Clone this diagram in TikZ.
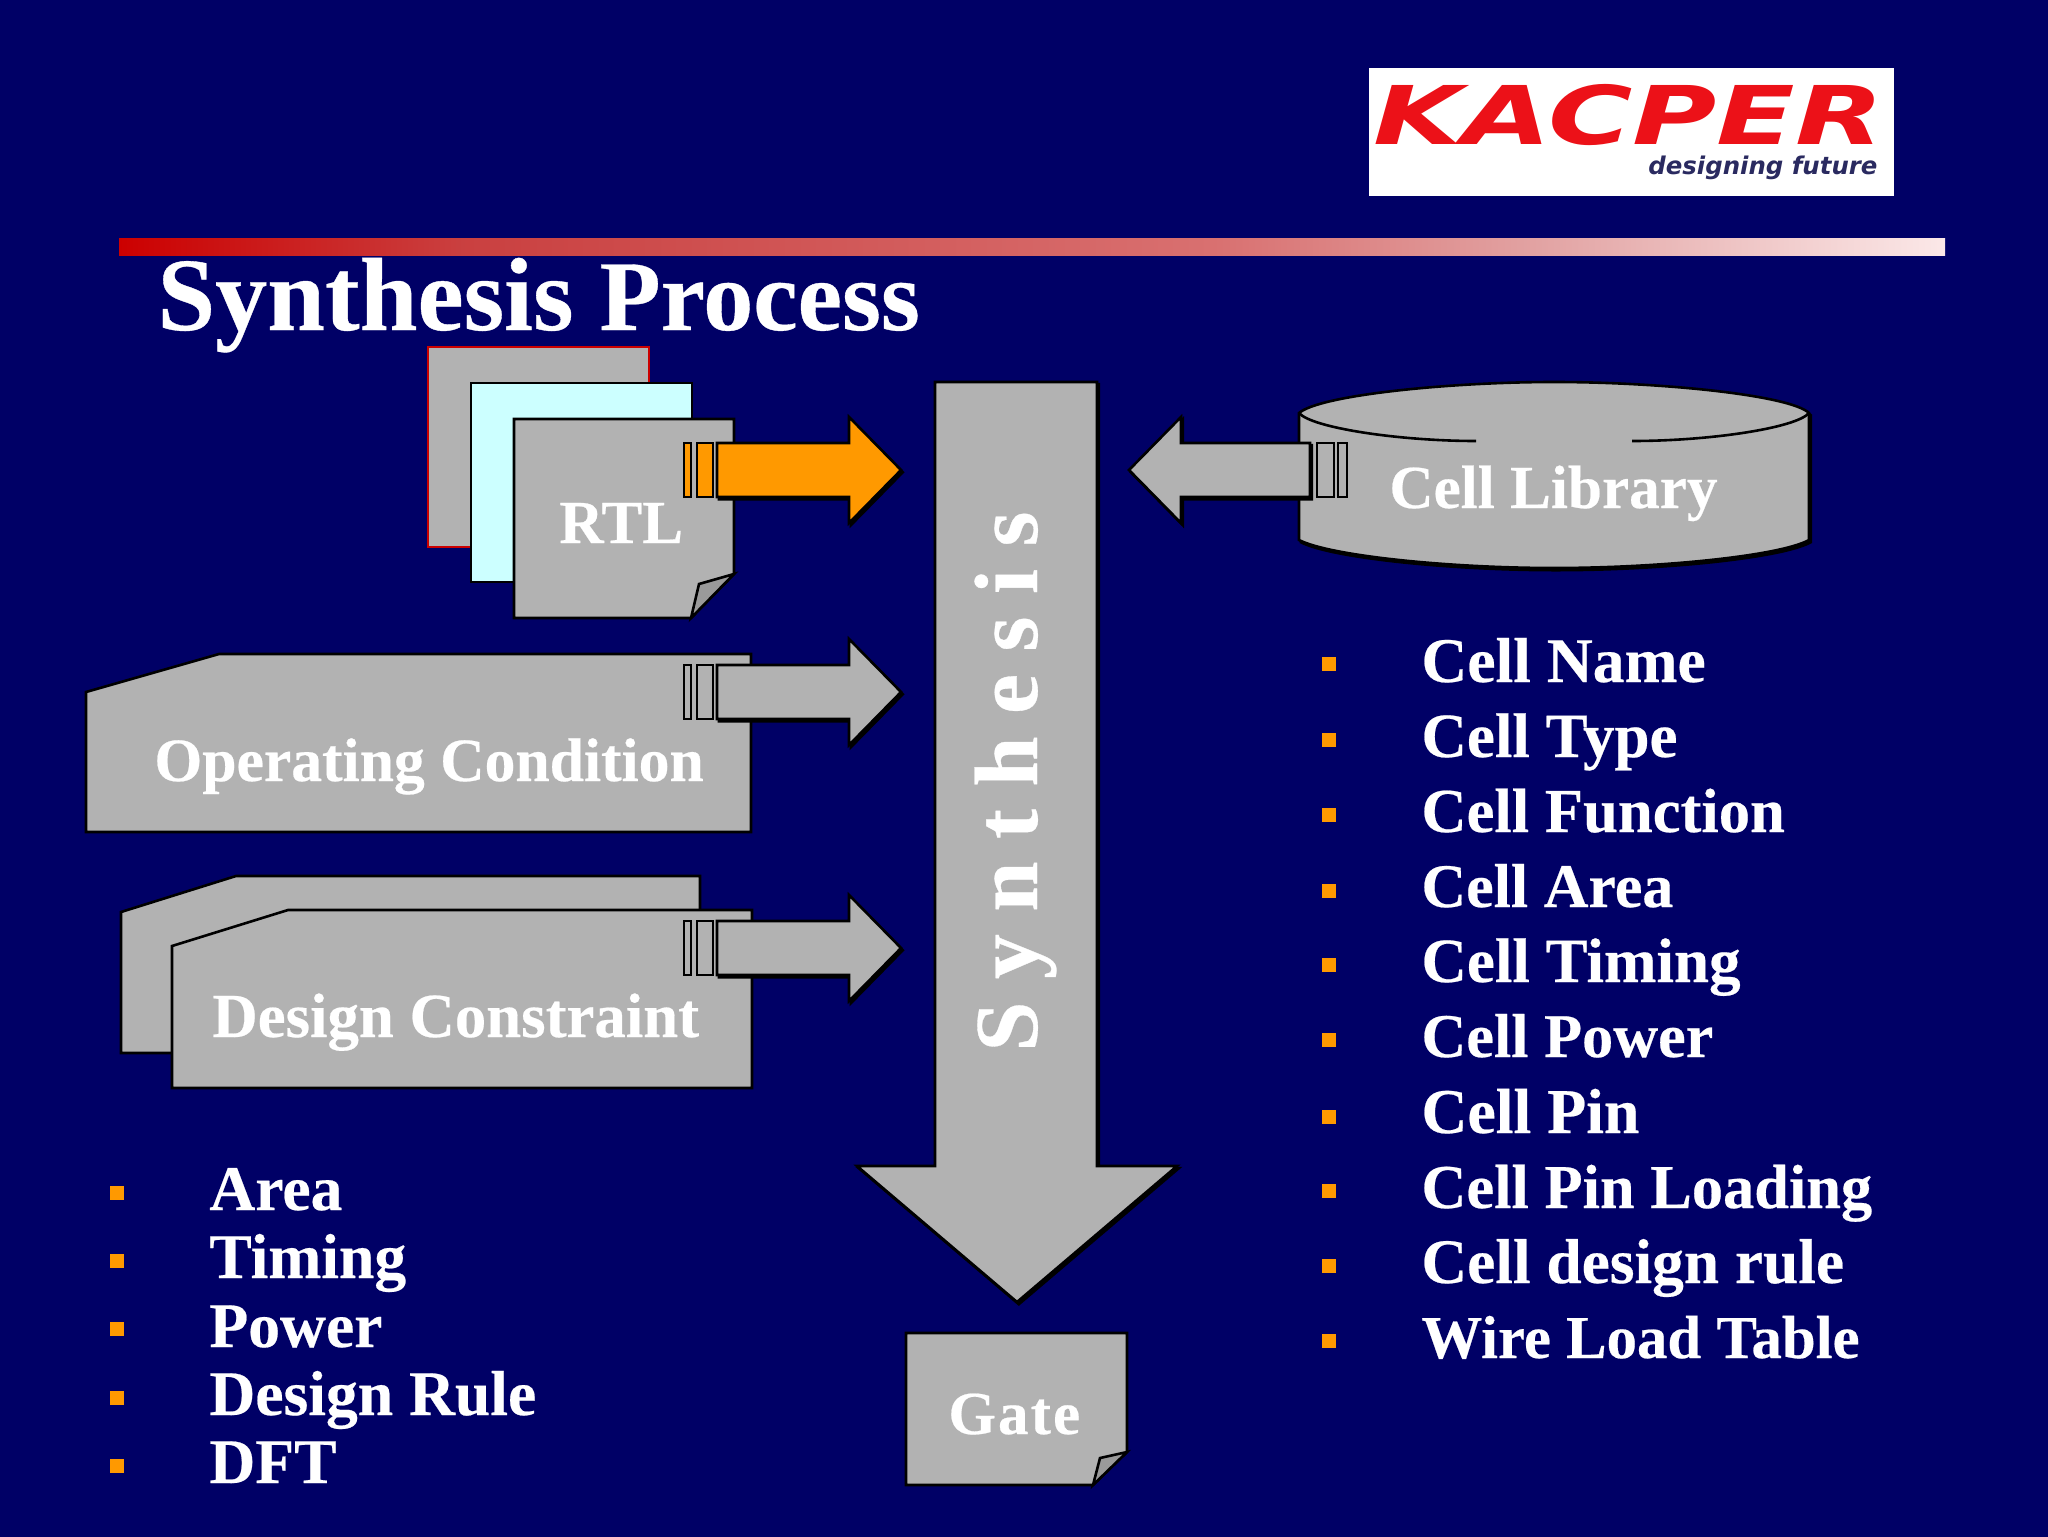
\documentclass[tikz,border=0pt]{standalone}
\usepackage{fontspec}
\setmainfont{Liberation Serif}[BoldFeatures={FakeBold=0.35}]
\newfontfamily\logobig{DejaVu Sans}[BoldItalicFeatures={FakeStretch=1.42}]
\newfontfamily\logosmall{DejaVu Sans}
\definecolor{bgnavy}{HTML}{000066}
\definecolor{shapegray}{HTML}{B2B2B2}
\definecolor{foldgray}{HTML}{9A9A9A}
\definecolor{bulorange}{HTML}{FF9900}
\definecolor{lightcyan}{HTML}{CCFFFF}
\definecolor{barred}{HTML}{CC0000}
\definecolor{logored}{HTML}{EC1118}
\definecolor{logoblue}{HTML}{2A2A60}
\pgfdeclarehorizontalshading{barshade}{100bp}{
  rgb(0bp)=(0.80,0,0);
  rgb(25bp)=(0.80,0,0);
  rgb(34.4bp)=(0.79,0.25,0.25);
  rgb(55bp)=(0.85,0.44,0.44);
  rgb(63.7bp)=(0.885,0.635,0.635);
  rgb(75bp)=(0.985,0.91,0.91);
  rgb(100bp)=(0.985,0.91,0.91)}
\tikzset{
  x=0.5pt,y=-0.5pt,
  solid shape/.style={fill=shapegray,draw=black,line width=1.3pt,line join=miter},
  shadowed/.style={preaction={draw=black,fill=black,line width=1.3pt,transform canvas={xshift=0.9pt,yshift=-1.1pt}}},
  stripe/.style={draw=black,line width=1.4pt},
  label text/.style={text=white,font=\bfseries\fontsize{30.6}{34}\selectfont,inner sep=0pt,anchor=base west},
  left item/.style={text=white,font=\bfseries\fontsize{31.8}{34}\selectfont,inner sep=0pt,anchor=base west},
  right item/.style={text=white,inner sep=0pt,anchor=base west},
  bullet mark/.style={fill=bulorange,draw=none,minimum size=6.8pt,inner sep=0pt},
}
% block arrow pointing right, centred on y=#1, fill #2
\newcommand{\rightblock}[2]{%
  \begin{scope}[shift={(0,#1)}]
    \draw[solid shape,shadowed,fill=#2] (717,-27) -- (849,-27) -- (849,-53) -- (901,0) -- (849,53) -- (849,27) -- (717,27) -- cycle;
    \draw[stripe,fill=#2] (697,-27) rectangle (713,27);
    \draw[stripe,fill=#2] (684,-27) rectangle (691,27);
  \end{scope}}
\begin{document}
\begin{tikzpicture}
\useasboundingbox (0,0) rectangle (2048,1536);
\fill[bgnavy] (-10,-10) rectangle (2058,1546);
% logo
\fill[white] (1369,68) rectangle (1894,196);
\node[inner sep=0pt,anchor=base west,text=logored,font=\logobig\bfseries\itshape\fontsize{40.5}{44}\selectfont] (logoname) at (1373,144) {KACPER};
\node[inner sep=0pt,anchor=base west,text=logoblue,font=\logosmall\bfseries\itshape\fontsize{12.2}{14}\selectfont] (logotag) at (1648,174) {designing future};
% bar and title
\shade[shading=barshade] (119,238) rectangle (1945,255);
\node[text=white,font=\bfseries\fontsize{52}{56}\selectfont,inner sep=0pt,anchor=base west] (title) at (157,330) {Synthesis {\fontsize{50}{56}\selectfont Process}};
% RTL stack
\draw[fill=shapegray,draw=barred,line width=1.1pt] (428,347) rectangle (649,547);
\draw[fill=lightcyan,draw=black,line width=1.1pt] (471,383) rectangle (692,582);
\draw[solid shape] (514,419) -- (734,419) -- (734,574) -- (691,618) -- (514,618) -- cycle;
\draw[fill=foldgray,draw=black,line width=1.3pt] (691,618) -- (699,584) -- (734,574) -- cycle;
\node[label text] (rtl) at (559,543) {RTL};
\rightblock{470}{bulorange}
% operating condition
\draw[solid shape] (86,692) -- (219,654) -- (751,654) -- (751,832) -- (86,832) -- cycle;
\node[label text,font=\bfseries\fontsize{30.8}{34}\selectfont] (opcond) at (154,781) {Operating Condition};
\rightblock{692}{shapegray}
% design constraint
\draw[solid shape] (121,912) -- (236,876) -- (700,876) -- (700,1053) -- (121,1053) -- cycle;
\draw[solid shape] (172,946) -- (288,910) -- (752,910) -- (752,1088) -- (172,1088) -- cycle;
\node[label text,font=\bfseries\fontsize{31.4}{34}\selectfont] (dcons) at (212,1037) {Design Constraint};
\rightblock{948}{shapegray}
% synthesis arrow
\draw[solid shape,shadowed] (935,382) -- (1097,382) -- (1097,1166) -- (1177,1166) -- (1017,1302) -- (857,1166) -- (935,1166) -- cycle;
\node[text=white,font=\bfseries\fontsize{45}{50}\selectfont,inner sep=0pt,anchor=base west,rotate=90] (synth) at (1037,1052) {S y n t h e s i s};
% gate
\draw[solid shape] (906,1333) -- (1127,1333) -- (1127,1452) -- (1093,1485) -- (906,1485) -- cycle;
\draw[fill=foldgray,draw=black,line width=1.3pt] (1093,1485) -- (1100,1458) -- (1127,1452) -- cycle;
\node[label text] (gate) at (948,1434) {G\kern1pt a\kern1pt t\kern1pt e};
% cell library
\draw[solid shape,shadowed] (1299,413) -- (1299,540) .. controls (1330,556) and (1450,568) .. (1554,568)
  .. controls (1660,568) and (1780,556) .. (1809,540) -- (1809,413)
  .. controls (1790,395) and (1660,382) .. (1554,382) .. controls (1450,382) and (1320,395) .. (1299,413) -- cycle;
\draw[black,line width=1.3pt] (1299,413) .. controls (1312,428) and (1400,441) .. (1476,441);
\draw[black,line width=1.3pt] (1809,413) .. controls (1796,428) and (1710,441) .. (1632,441);
\node[label text] (celllib) at (1389,508) {Cell Library};
\draw[solid shape,shadowed] (1310,443) -- (1181,443) -- (1181,417) -- (1129,470) -- (1181,523) -- (1181,497) -- (1310,497) -- cycle;
\draw[stripe,fill=shapegray] (1317,443) rectangle (1334,497);
\draw[stripe,fill=shapegray] (1338,443) rectangle (1347,497);
% left list
\node[left item] (la) at (209,1210) {Area};
\node[left item] (lb) at (209,1278) {Timing};
\node[left item] (lc) at (209,1347) {Power};
\node[left item] (ld) at (209,1415) {Design Rule};
\node[left item] (le) at (209,1483) {DFT};
\foreach \n/\yy in {ba/1193,bb/1261,bc/1329,bd/1398,be/1466}
  \node[bullet mark] (\n) at (117,\yy) {};
% right list
\foreach \n/\yy/\sz/\t in {ra/682/31.8/Cell Name,rb/757/31.5/Cell Type,rc/832/31.3/Cell Function,rd/907/31/Cell Area,re/982/31.5/Cell Timing,rf/1057/31.1/Cell Power,rg/1133/31.9/Cell Pin,rh/1208/31.2/Cell Pin Loading,ri/1283/31.7/Cell design rule,rj/1358/30.4/Wire Load Table}
  \node[right item,font=\bfseries\fontsize{\sz}{34}\selectfont] (\n) at (1421,\yy) {\t};
\foreach \n/\yy in {sa/664,sb/740,sc/815,sd/891,se/965,sf/1040,sg/1117,sh/1191,si/1266,sj/1341}
  \node[bullet mark] (\n) at (1329,\yy) {};
\end{tikzpicture}
\end{document}
